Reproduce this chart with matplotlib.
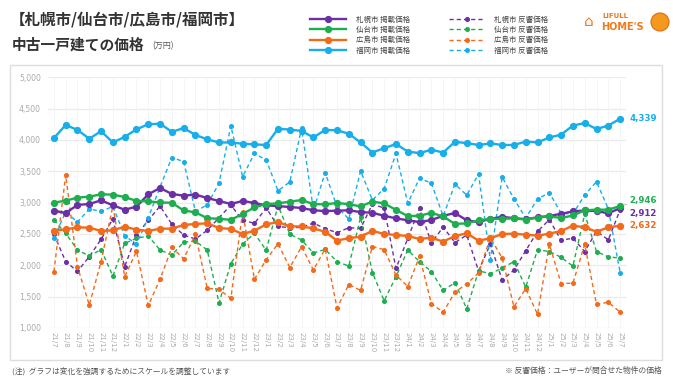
import matplotlib
matplotlib.use("Agg")
import matplotlib.pyplot as plt
from matplotlib.patches import Rectangle, Ellipse
import numpy as np

plt.rcParams['font.family'] = ['Noto Sans CJK JP', 'DejaVu Sans']

months = (["21/%d" % m for m in range(7, 13)] + ["22/%d" % m for m in range(1, 13)] +
          ["23/%d" % m for m in range(1, 13)] + ["24/%d" % m for m in range(1, 13)] +
          ["25/%d" % m for m in range(1, 8)])

sapporo_list = [2872, 2835, 2963, 2979, 3037, 2957, 2888, 2936, 3133, 3234, 3138, 3112, 3128, 3074,
                3027, 2979, 3027, 2995, 2957, 2945, 2930, 2915, 2878, 2866, 2872, 2878, 2850, 2838,
                2790, 2750, 2718, 2690, 2723, 2790, 2835, 2718, 2690, 2742, 2774, 2752, 2736, 2766,
                2788, 2822, 2860, 2875, 2866, 2830, 2912]
sendai_list = [3000, 3032, 3080, 3096, 3133, 3128, 3090, 3027, 3021, 3003, 2998, 2875, 2845, 2752,
               2742, 2726, 2819, 2925, 2978, 2989, 3016, 3042, 2978, 2973, 2995, 2975, 2940, 3018,
               2987, 2885, 2785, 2792, 2837, 2780, 2660, 2670, 2718, 2740, 2742, 2750, 2730, 2761,
               2782, 2755, 2795, 2878, 2888, 2888, 2946]
hiroshima_list = [2553, 2574, 2606, 2601, 2548, 2558, 2617, 2569, 2548, 2585, 2585, 2644, 2660, 2670,
                  2596, 2580, 2500, 2553, 2654, 2690, 2622, 2620, 2590, 2535, 2394, 2434, 2457, 2550,
                  2500, 2484, 2468, 2420, 2441, 2378, 2468, 2511, 2394, 2431, 2500, 2505, 2489, 2473,
                  2505, 2548, 2633, 2606, 2537, 2606, 2632]
fukuoka_list = [4030, 4240, 4160, 4020, 4140, 3960, 4050, 4170, 4250, 4260, 4130, 4190, 4080, 4010,
                3960, 3960, 3940, 3930, 3920, 4180, 4165, 4145, 4040, 4160, 4155, 4100, 3960, 3800,
                3870, 3935, 3815, 3790, 3845, 3800, 3970, 3950, 3920, 3945, 3920, 3920, 3975, 3960,
                4040, 4085, 4230, 4270, 4175, 4230, 4339]

sapporo_resp = [2500, 2058, 1905, 2138, 2415, 2740, 1978, 2484, 2718, 2945, 2655, 2484, 2420, 2560,
                2760, 2960, 2720, 2670, 2915, 2620, 2600, 2606, 2675, 2585, 2521, 2600, 2590, 2975,
                2915, 1950, 2430, 2910, 2356, 2610, 2362, 2484, 1912, 2338, 1768, 1923, 2234, 2540,
                2730, 2400, 2433, 2220, 2545, 2406, 2885]
sendai_resp = [2723, 2510, 2244, 2149, 2250, 1830, 2351, 2431, 2468, 2244, 2165, 2370, 2385, 2245,
               1400, 2027, 2338, 2510, 2240, 2955, 2497, 2404, 2196, 2255, 2058, 1989, 2765, 1885,
               1434, 1819, 2245, 2058, 1899, 1600, 1723, 1305, 1912, 1867, 1955, 2060, 1650, 2248,
               2220, 2128, 1987, 2820, 2220, 2135, 2115]
hiroshima_resp = [1899, 3441, 1978, 1367, 2058, 2950, 1819, 2223, 1359, 1780, 2285, 2104, 2492, 1633,
                  1617, 1473, 2850, 1776, 2090, 2345, 1965, 2298, 1925, 2263, 1320, 1694, 1600, 2300,
                  2250, 1846, 1660, 2143, 1388, 1252, 1572, 1705, 1878, 2439, 2117, 1338, 1628, 1218,
                  2335, 1710, 1715, 2335, 1375, 1412, 1253]
fukuoka_resp = [2440, 2850, 2690, 2900, 2860, 2940, 2470, 2340, 2760, 3250, 3720, 3655, 2860, 2965,
                3310, 4225, 3415, 3785, 3680, 3190, 3330, 4190, 2880, 3480, 2930, 2740, 3505, 3040,
                3225, 3785, 2990, 3390, 3310, 2785, 3295, 3120, 3455, 2085, 3410, 3060, 2755, 3058,
                3160, 2830, 2820, 3120, 3335, 2900, 1885]

cities = ["札幌市", "仙台市", "広島市", "福岡市"]
listed = [sapporo_list, sendai_list, hiroshima_list, fukuoka_list]
resp = [sapporo_resp, sendai_resp, hiroshima_resp, fukuoka_resp]
colors = ["#6b2fa6", "#1fae4f", "#f26a1b", "#18aeea"]
yticks = [1000, 1500, 2000, 2500, 3000, 3500, 4000, 4500, 5000]

W, H = 673, 379
fig = plt.figure(figsize=(W / 100, H / 100), dpi=100)
fig.patch.set_facecolor("white")

# panel border
fig.add_artist(Rectangle((10 / W, 1 - 360 / H), 652 / W, 295 / H, transform=fig.transFigure,
                         facecolor="none", edgecolor="#dddddd", lw=1.0))

ax = fig.add_axes([48 / W, 1 - 328 / H, 578 / W, (328 - 77.3) / H])
x = np.arange(len(months))

handles_solid, handles_dash = [], []
for c, lst, rsp, col in zip(cities, listed, resp, colors):
    hd, = ax.plot(x, rsp, ls=(0, (3.0, 2.2)), lw=1.0, color=col, marker="o", markersize=2.6,
                  zorder=2, label=c + " 反響価格")
    handles_dash.append(hd)
for c, lst, rsp, col in zip(cities, listed, resp, colors):
    hs, = ax.plot(x, lst, ls="-", lw=1.7, color=col, marker="o", markersize=4.2,
                  zorder=4, label=c + " 掲載価格")
    handles_solid.append(hs)

ax.set_xlim(-0.5, len(months) - 0.5)
ax.set_ylim(1000, 5000)
ax.set_yticks(yticks)
ax.set_yticklabels(["{:,}".format(v) for v in yticks], fontsize=5.6, color="#aaaaaa",
                   family="DejaVu Sans")
ax.set_xticks(x)
ax.set_xticklabels(months, rotation=270, fontsize=5.0, color="#aaaaaa", family="DejaVu Sans")
ax.tick_params(axis="both", length=0, pad=5)
ax.tick_params(axis="x", pad=3)
for s in ax.spines.values():
    s.set_visible(False)
for v in yticks:
    ax.axhline(v, color="#ebebeb", lw=0.9, zorder=0)
for xi in x:
    ax.axvline(xi, color="#f4f4f4", lw=0.6, zorder=0)

# end labels
ends = [(fukuoka_list[-1], colors[3], 0, False),
        (sendai_list[-1], colors[1], 4, True),
        (sapporo_list[-1], colors[0], -4, False),
        (hiroshima_list[-1], colors[2], 0, False)]
for val, col, dy, leader in ends:
    ax.annotate("{:,}".format(val), xy=(x[-1], val), xytext=(7, dy), textcoords="offset points",
                fontsize=6.2, color=col, fontweight="bold", va="center", ha="left",
                family="DejaVu Sans", annotation_clip=False,
                arrowprops=dict(arrowstyle="-", color="#bbbbbb", lw=0.6,
                                shrinkA=0, shrinkB=3) if leader else None)

# titles
fig.text(10 / W, 1 - 19.5 / H, "【札幌市/仙台市/広島市/福岡市】", fontsize=11.2, fontweight="bold",
         color="#333333", va="center", ha="left")
fig.text(12 / W, 1 - 45 / H, "中古一戸建ての価格", fontsize=10.6, fontweight="bold",
         color="#333333", va="center", ha="left")
fig.text(152 / W, 1 - 46 / H, "(万円)", fontsize=5.8, color="#555555", va="center", ha="left")

# legend
fig.legend(handles=handles_solid + handles_dash, loc="upper left",
           bbox_to_anchor=(303 / W, 1 - 9 / H), ncol=2, frameon=False, fontsize=5.4,
           handlelength=4.8, handletextpad=1.3, columnspacing=5.2, labelspacing=0.3,
           labelcolor="#444444")

# logo
orange = "#f07a1a"
fig.text(584 / W, 1 - 22 / H, "⌂", fontsize=11, color=orange, va="center", ha="left",
         family="DejaVu Sans")
fig.text(602 / W, 1 - 16 / H, "LIFULL", fontsize=5.0, color=orange, fontweight="bold",
         va="center", ha="left", family="DejaVu Sans")
fig.text(601 / W, 1 - 26.5 / H, "HOME'S", fontsize=7.0, color=orange, fontweight="bold",
         va="center", ha="left", family="DejaVu Sans")
fig.add_artist(Ellipse((660 / W, 1 - 22 / H), 18 / W, 18 / H, transform=fig.transFigure,
                       facecolor="#f39a1e", edgecolor="#e06c10", lw=0.8))

# footnotes
fig.text(12 / W, 1 - 371 / H, "(注)  グラフは変化を強調するためにスケールを調整しています",
         fontsize=5.6, color="#555555", va="center", ha="left")
fig.text(662 / W, 1 - 371 / H, "※ 反響価格：ユーザーが問合せた物件の価格",
         fontsize=5.6, color="#555555", va="center", ha="right")

fig.savefig("out.png", dpi=100, facecolor="white")
